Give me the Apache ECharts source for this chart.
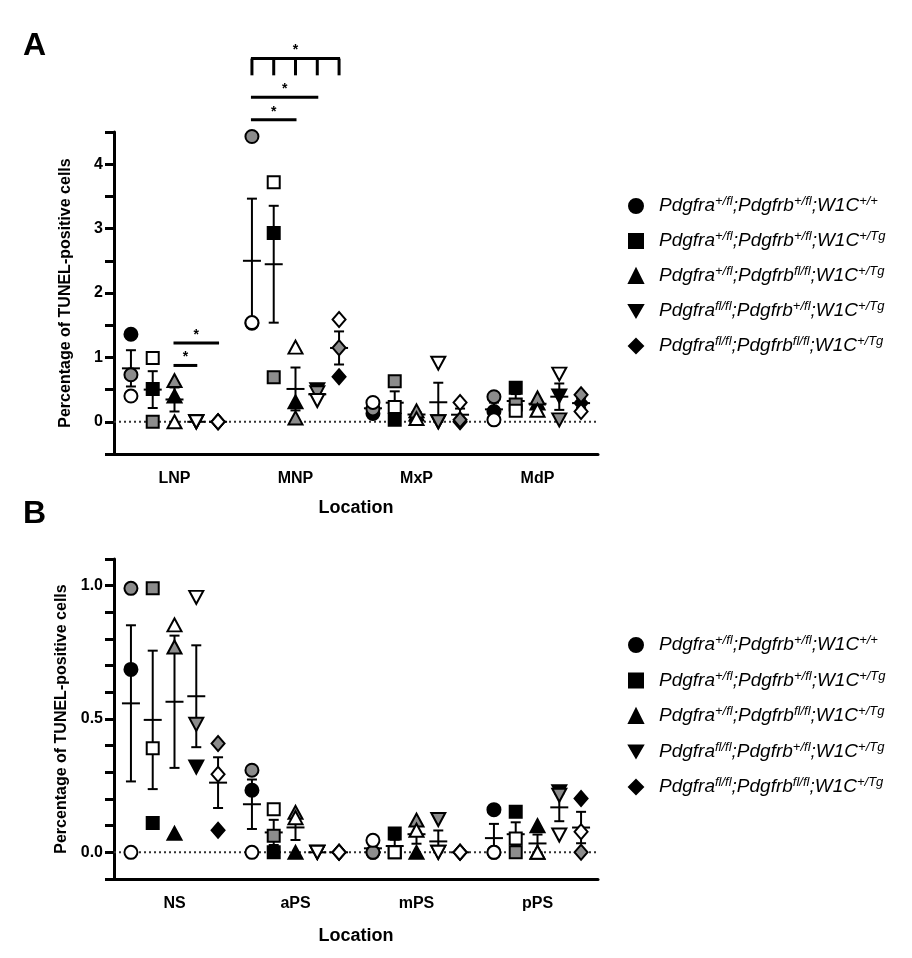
<!DOCTYPE html>
<html>
<head>
<meta charset="utf-8">
<script src="https://cdn.jsdelivr.net/npm/echarts@6/dist/echarts.min.js"></script>
<style>
  html, body { margin: 0; padding: 0; background: #fff; }
  #chart { width: 912px; height: 958px; }
</style>
</head>
<body>
<div id="chart"></div>
<script>
const locationsA = ['LNP', 'MNP', 'MxP', 'MdP'];
const locationsB = ['NS', 'aPS', 'mPS', 'pPS'];

// one row per location, each row = [black, grey, white] animal
const aG1 = [[1.36, 0.73, 0.40], [1.53, 4.43, 1.54], [0.13, 0.20, 0.30], [0.16, 0.39, 0.03]];
const aG2 = [[0.51, 0, 0.99], [2.93, 0.69, 3.72], [0.03, 0.63, 0.23], [0.53, 0.27, 0.17]];
const aG3 = [[0.40, 0.64, 0], [0.31, 0.06, 1.16], [0.12, 0.17, 0.05], [0.29, 0.37, 0.18]];
const aG4 = [[0, 0, 0], [0.50, 0.45, 0.33], [0, 0, 0.91], [0.40, 0.03, 0.74]];
const aG5 = [[0, 0, 0], [0.70, 1.15, 1.59], [0, 0.03, 0.30], [0.29, 0.42, 0.16]];

const bG1 = [[0.686, 0.99, 0], [0.233, 0.308, 0], [0, 0, 0.045], [0.16, 0, 0]];
const bG2 = [[0.11, 0.99, 0.39], [0, 0.062, 0.162], [0.071, 0, 0], [0.152, 0, 0.052]];
const bG3 = [[0.071, 0.77, 0.853], [0, 0.15, 0.13], [0, 0.121, 0.083], [0.10, 0, 0]];
const bG4 = [[0.32, 0.48, 0.956], [0, 0, 0], [0, 0.123, 0], [0.227, 0.214, 0.065]];
const bG5 = [[0.083, 0.408, 0.293], [0, 0, 0], [0, 0, 0], [0.202, 0, 0.077]];

// significance bars on panel A: [location, fromGroup, toGroup, y, drop]
const sigA = [[0, 2, 3, 0.875, 0], [0, 2, 4, 1.225, 0], [1, 0, 2, 4.69, 0], [1, 0, 3, 5.04, 0], [1, 0, 4, 5.64, 0.26]];

// genotype superscripts
const supA = ['+/fl', '+/fl', '+/fl', 'fl/fl', 'fl/fl'];
const supB = ['+/fl', '+/fl', 'fl/fl', '+/fl', 'fl/fl'];
const supW = ['+/+', '+/Tg', '+/Tg', '+/Tg', '+/Tg'];

const names = supA.map((s, i) => 'Pdgfra' + s + ';Pdgfrb' + supB[i] + ';W1C' + supW[i]);
const offsets = [-0.36, -0.18, 0, 0.18, 0.36];
const downTri = 'path://M0,0L10,0L5,8.7Z';
const symbols = ['circle', 'rect', 'triangle', downTri, 'diamond'];
const symbolSizes = [13, 12, [14, 13], [14, 13], [13, 15]];
const fills = ['#000000', '#8c8c8c', '#ffffff'];
const FONT = '"Liberation Sans", Arial, sans-serif';

function mean(a) {
  return a.reduce((s, v) => s + v, 0) / a.length;
}
function sem(a) {
  let m = mean(a);
  let ss = a.reduce((s, v) => s + (v - m) * (v - m), 0);
  return Math.sqrt(ss / (a.length - 1)) / Math.sqrt(a.length);
}

function renderErr(params, api) {
  let x = api.value(0), m = api.value(1), s = api.value(2);
  let c = api.coord([x, m]);
  let st = { stroke: '#000', lineWidth: 2 };
  let kids = [{ type: 'line', shape: { x1: c[0] - 9, y1: c[1], x2: c[0] + 9, y2: c[1] }, style: st }];
  if (s > 0) {
    let t = api.coord([x, m + s]);
    let b = api.coord([x, m - s]);
    kids.push({ type: 'line', shape: { x1: t[0], y1: t[1], x2: b[0], y2: b[1] }, style: st });
    kids.push({ type: 'line', shape: { x1: t[0] - 5, y1: t[1], x2: t[0] + 5, y2: t[1] }, style: st });
    kids.push({ type: 'line', shape: { x1: b[0] - 5, y1: b[1], x2: b[0] + 5, y2: b[1] }, style: st });
  }
  return { type: 'group', children: kids };
}

function renderSig(params, api) {
  let loc = api.value(0), ga = api.value(1), gb = api.value(2), y = api.value(3), drop = api.value(4);
  let p1 = api.coord([loc + offsets[ga], y]);
  let p2 = api.coord([loc + offsets[gb], y]);
  let st = { stroke: '#000', lineWidth: 3 };
  let kids = [{ type: 'line', shape: { x1: p1[0] - 1, y1: p1[1], x2: p2[0] + 1, y2: p2[1] }, style: st }];
  if (drop > 0) {
    for (let g = ga; g <= gb; g++) {
      let q = api.coord([loc + offsets[g], y - drop]);
      kids.push({ type: 'line', shape: { x1: q[0], y1: p1[1], x2: q[0], y2: q[1] }, style: st });
    }
  }
  kids.push({
    type: 'text',
    x: (p1[0] + p2[0]) / 2,
    y: p1[1] - 8,
    style: { text: '*', fill: '#000', font: 'bold 14px ' + FONT, align: 'center', verticalAlign: 'middle' },
  });
  return { type: 'group', children: kids };
}

function panelSeries(groups, gi) {
  let out = [];
  out.push({
    type: 'line',
    xAxisIndex: gi * 2 + 1,
    yAxisIndex: gi,
    data: [[-0.5, 0], [3.5, 0]],
    symbol: 'none',
    silent: true,
    lineStyle: { type: [2, 3], width: 2, color: '#333' },
    z: 1,
  });
  groups.forEach((rows, g) => {
    let pts = [];
    rows.forEach((vals, loc) => {
      vals.forEach((v, k) => {
        pts.push({ value: [loc + offsets[g], v], itemStyle: { color: fills[k] } });
      });
    });
    out.push({
      type: 'custom',
      xAxisIndex: gi * 2 + 1,
      yAxisIndex: gi,
      silent: true,
      z: 3,
      data: rows.map((vals, loc) => [loc + offsets[g], mean(vals), sem(vals)]),
      renderItem: renderErr,
    });
    out.push({
      type: 'scatter',
      name: names[g],
      xAxisIndex: gi * 2 + 1,
      yAxisIndex: gi,
      symbol: symbols[g],
      symbolSize: symbolSizes[g],
      itemStyle: { color: '#000', borderColor: '#000', borderWidth: 2, opacity: 1 },
      z: 4,
      data: pts,
    });
  });
  return out;
}

function catAxis(gi, cats, gap) {
  return {
    type: 'category',
    gridIndex: gi,
    data: cats,
    axisLine: { onZero: false, lineStyle: { color: '#000', width: 3 } },
    axisTick: { alignWithLabel: true, length: 10, lineStyle: { width: 3, color: '#000' } },
    axisLabel: { color: '#000', fontWeight: 'bold', fontSize: 16, fontFamily: FONT, margin: 17 },
    name: 'Location',
    nameLocation: 'middle',
    nameGap: gap,
    nameTextStyle: { color: '#000', fontWeight: 'bold', fontSize: 18, fontFamily: FONT },
  };
}
function valX(gi) {
  return { type: 'value', gridIndex: gi, min: -0.5, max: 3.5, show: false };
}
function yAxis(gi, min, max, step, fmt) {
  return {
    type: 'value',
    gridIndex: gi,
    min: min,
    max: max,
    interval: step,
    splitLine: { show: false },
    axisLine: { show: true, onZero: false, lineStyle: { color: '#000', width: 3 } },
    axisTick: { show: true, length: 9, lineStyle: { width: 3, color: '#000' } },
    axisLabel: { color: '#000', fontWeight: 'bold', fontSize: 16, fontFamily: FONT, margin: 11, formatter: fmt },
    name: 'Percentage of TUNEL-positive cells',
    nameLocation: 'middle',
    nameGap: 40,
    nameTextStyle: { color: '#000', fontWeight: 'bold', fontSize: 16, fontFamily: FONT },
  };
}

function legendFmt(name) {
  let i = names.indexOf(name);
  return '{p| }{n|Pdgfra}{s|' + supA[i] + '}{n|;Pdgfrb}{s|' + supB[i] + '}{n|;W1C}{s|' + supW[i] + '}';
}
const legendRich = {
  p: { width: 11, fontSize: 19, lineHeight: 22 },
  n: { fontSize: 19, fontStyle: 'italic', fontFamily: FONT, color: '#000', lineHeight: 22 },
  s: { fontSize: 13, fontStyle: 'italic', fontFamily: FONT, color: '#000', lineHeight: 13, verticalAlign: 'top' },
};
function legend(top, gap) {
  return {
    top: top,
    left: 623,
    orient: 'vertical',
    itemGap: gap,
    itemWidth: 14,
    itemHeight: 14,
    selectedMode: false,
    data: names.map((n, i) => ({ name: n, icon: symbols[i] })),
    formatter: legendFmt,
    textStyle: { rich: legendRich },
  };
}

let chart = echarts.init(document.getElementById('chart'), null, { renderer: 'canvas' });
let option = {
  animation: false,
  backgroundColor: '#fff',
  grid: [
    { left: 114, top: 132, width: 484, height: 322 },
    { left: 114, top: 559, width: 484, height: 320 },
  ],
  xAxis: [catAxis(0, locationsA, 45), valX(0), catAxis(1, locationsB, 48), valX(1)],
  yAxis: [
    yAxis(0, -0.5, 4.5, 0.5, v => (Math.abs(v - Math.round(v)) < 1e-6 && v >= 0 ? String(Math.round(v)) : '')),
    yAxis(1, -0.1, 1.1, 0.1, v => {
      let r = Math.round(v * 10);
      return r >= 0 && r % 5 === 0 ? (r / 10).toFixed(1) : '';
    }),
  ],
  legend: [legend(190, 14.5), legend(629, 15)],
  graphic: [
    { type: 'text', left: 23, top: 30, style: { text: 'A', font: 'bold 32px ' + FONT, fill: '#000' } },
    { type: 'text', left: 23, top: 498, style: { text: 'B', font: 'bold 32px ' + FONT, fill: '#000' } },
  ],
  series: [
    ...panelSeries([aG1, aG2, aG3, aG4, aG5], 0),
    ...panelSeries([bG1, bG2, bG3, bG4, bG5], 1),
    {
      type: 'custom',
      xAxisIndex: 1,
      yAxisIndex: 0,
      clip: false,
      silent: true,
      z: 5,
      data: sigA,
      renderItem: renderSig,
    },
  ],
};
chart.setOption(option);
</script>
</body>
</html>
